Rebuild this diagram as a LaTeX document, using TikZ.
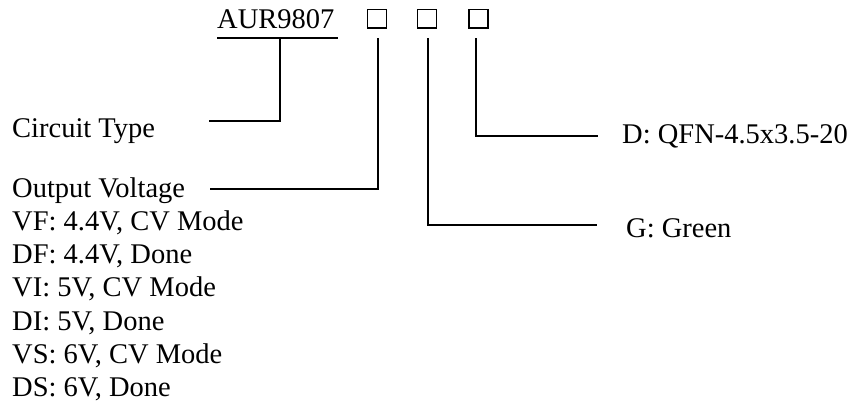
\documentclass[tikz,border=0pt]{standalone}
\usepackage{fontspec}
\setmainfont{Liberation Serif}
\begin{document}
\begin{tikzpicture}[x=1pt,y=-1pt,
  lbl/.style={anchor=base west,inner sep=0pt,font=\fontsize{28.5}{33}\selectfont},
  sq/.style={draw,line width=1.5pt,minimum width=19pt,minimum height=18.5pt,inner sep=0pt},
  ln/.style={line width=1.6pt}]
\useasboundingbox (0,0) rectangle (856,408);
% code
\node[lbl] (aur) at (217,28) {AUR9807};
\node[sq] (b1) at (377,18.5) {};
\node[sq] (b2) at (427,18.5) {};
\node[sq] (b3) at (478.5,18.5) {};
\coordinate (ulL) at (217,38);
\coordinate (ulR) at (338,38);
\coordinate (ulM) at (280,38);
\coordinate (v1) at (378,38);
\coordinate (v2) at (428,38);
\coordinate (v3) at (476,38);
% labels
\node[lbl] (ct) at (12,137) {Circuit Type};
\node[lbl] (ov) at (12,197) {Output Voltage};
\node[lbl] (l1) at (12,230) {VF: 4.4V, CV Mode};
\node[lbl] (l2) at (12,263.5) {DF: 4.4V, Done};
\node[lbl] (l3) at (12,296.5) {VI: 5V, CV Mode};
\node[lbl] (l4) at (12,330) {DI: 5V, Done};
\node[lbl] (l5) at (12,363) {VS: 6V, CV Mode};
\node[lbl] (l6) at (12,396) {DS: 6V, Done};
\node[lbl] (gg) at (626,237) {G: Green};
\node[lbl] (dd) at (622,143) {D: QFN-4.5x3.5-20};
\coordinate (ctE) at (209,121);
\coordinate (ovE) at (210,189);
\coordinate (ggE) at (597,225);
\coordinate (ddE) at (598,136);
% connectors
\draw[ln] (ulL) -- (ulR);
\draw[ln] (ulM) |- (ctE);
\draw[ln] (v1) |- (ovE);
\draw[ln] (v2) |- (ggE);
\draw[ln] (v3) |- (ddE);
\end{tikzpicture}
\end{document}
